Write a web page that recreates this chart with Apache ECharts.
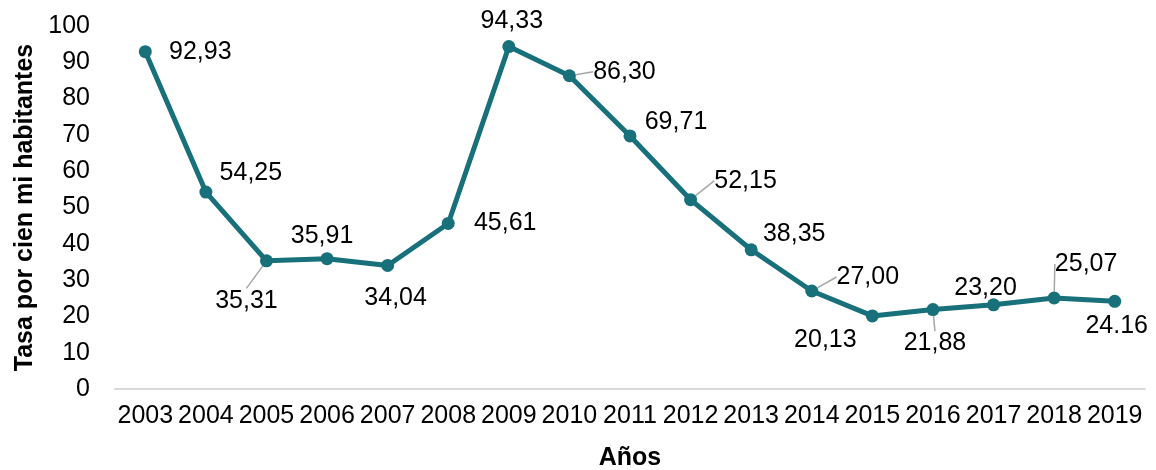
<!DOCTYPE html>
<html>
<head>
<meta charset="utf-8">
<script src="https://cdn.jsdelivr.net/npm/echarts@6/dist/echarts.min.js"></script>
<style>
html, body { margin: 0; padding: 0; background: #fff; }
#chart { width: 1156px; height: 470px; }
</style>
</head>
<body>
<div id="chart"></div>
<script>
// data
var years = ['2003', '2004', '2005', '2006', '2007', '2008', '2009', '2010', '2011',
    '2012', '2013', '2014', '2015', '2016', '2017', '2018', '2019'];
var tasa = [92.93, 54.25, 35.31, 35.91, 34.04, 45.61, 94.33, 86.30, 69.71,
    52.15, 38.35, 27.00, 20.13, 21.88, 23.20, 25.07, 24.16];
var labelTexts = ['92,93', '54,25', '35,31', '35,91', '34,04', '45,61', '94,33', '86,30', '69,71',
    '52,15', '38,35', '27,00', '20,13', '21,88', '23,20', '25,07', '24.16'];

// label placement (px from the point), and which labels get a leader line
var labelShift = [
    [55, 0], [45, -19], [-20, 40], [-5, -23], [8, 33], [57, 0], [3, -25], [55, -4], [46, -14],
    [55, -19], [43, -16], [56, -14], [-47, 24], [2, 34], [-8, -17], [32, -34], [2, 25]
];
var withLine = [2, 7, 9, 11, 13, 15];

var chart = echarts.init(document.getElementById('chart'));
var lineColor = '#17707a';
var font = 'Liberation Sans, Arial, sans-serif';

var option = {
    animation: false,
    grid: { left: 115, right: 11, top: 26, bottom: 81, outerBoundsMode: 'none', containLabel: false },
    xAxis: {
        type: 'category',
        data: years,
        name: 'Años',
        nameLocation: 'middle',
        nameGap: 57,
        nameTextStyle: { fontFamily: font, fontSize: 25, fontWeight: 'bold', color: '#000' },
        axisLine: { lineStyle: { color: '#d9d9d9', width: 2 } },
        axisTick: { show: false },
        axisLabel: { fontFamily: font, fontSize: 25, color: '#000', margin: 15, interval: 0 }
    },
    yAxis: {
        type: 'value',
        min: 0,
        max: 100,
        interval: 10,
        name: 'Tasa por cien mi habitantes',
        nameLocation: 'middle',
        nameGap: 76,
        nameTextStyle: { fontFamily: font, fontSize: 25, fontWeight: 'bold', color: '#000' },
        axisLine: { show: false },
        axisTick: { show: false },
        splitLine: { show: false },
        axisLabel: { fontFamily: font, fontSize: 25, color: '#000', margin: 25 }
    },
    series: [{
        type: 'line',
        data: tasa.map(function (v, i) {
            return {
                value: v,
                labelLine: { show: withLine.indexOf(i) >= 0 }
            };
        }),
        symbol: 'circle',
        symbolSize: 13,
        itemStyle: { color: lineColor },
        lineStyle: { color: lineColor, width: 5 },
        label: {
            show: true,
            position: 'inside',
            formatter: function (p) { return labelTexts[p.dataIndex]; },
            fontFamily: font,
            fontSize: 25,
            color: '#000'
        },
        labelLine: {
            show: false,
            lineStyle: { color: '#a6a6a6', width: 1.5 }
        },
        labelLayout: function (p) {
            var s = labelShift[p.dataIndex];
            return { dx: s[0], dy: s[1] };
        }
    }]
};

chart.setOption(option);
</script>
</body>
</html>
